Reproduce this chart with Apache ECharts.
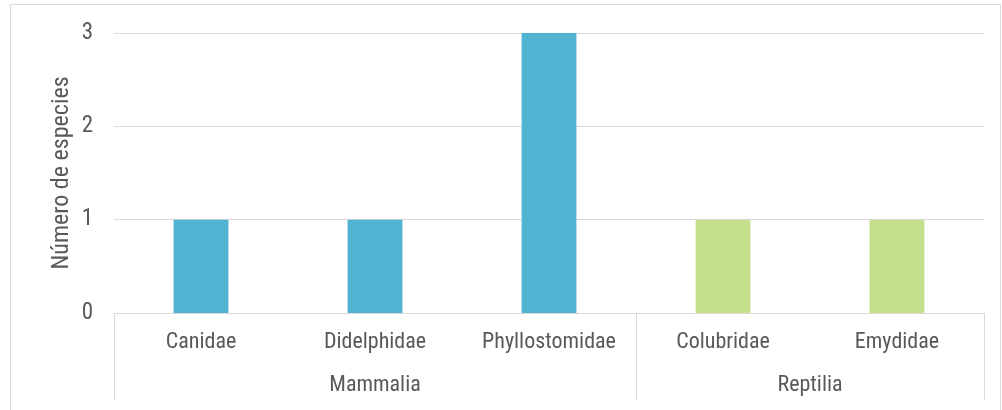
<!DOCTYPE html>
<html>
<head>
<meta charset="utf-8">
<style>
  html, body { margin: 0; padding: 0; background: #ffffff; }
  #chart { width: 1002px; height: 410px; }
</style>
<script src="https://cdn.jsdelivr.net/npm/echarts@6/dist/echarts.min.js"></script>
</head>
<body>
<div id="chart"></div>
<script>
// Families and the class each one belongs to
const families = ['Canidae', 'Didelphidae', 'Phyllostomidae', 'Colubridae', 'Emydidae'];
const familyClass = ['Mammalia', 'Mammalia', 'Mammalia', 'Reptilia', 'Reptilia'];
const speciesCount = [1, 1, 3, 1, 1];
const classNames = ['Mammalia', 'Reptilia'];
const classColors = { Mammalia: '#4fb3d1', Reptilia: '#c5e08a' };
const yTicks = [0, 1, 2, 3];

const GRID_COLOR = '#d9d9d9';
const TEXT_COLOR = '#595959';
const FONT = '"Roboto Condensed", "Liberation Sans Narrow", sans-serif';

const chart = echarts.init(document.getElementById('chart'), null, { renderer: 'canvas' });

const option = {
  animation: false,
  backgroundColor: '#ffffff',
  grid: { left: 114, right: 18, top: 33, bottom: 97 },
  xAxis: {
    type: 'category',
    data: families,
    boundaryGap: true,
    axisLine: { show: true, lineStyle: { color: GRID_COLOR, width: 1 } },
    axisTick: { show: false },
    axisLabel: { color: TEXT_COLOR, fontSize: 22, fontFamily: FONT, margin: 18, interval: 0 }
  },
  yAxis: {
    type: 'value',
    min: yTicks[0],
    max: yTicks[yTicks.length - 1],
    interval: 1,
    name: 'Número de especies',
    nameLocation: 'middle',
    nameGap: 40,
    nameMoveOverlap: false,
    nameTextStyle: { color: TEXT_COLOR, fontSize: 24, fontFamily: FONT },
    axisLine: { show: false },
    axisTick: { show: false },
    axisLabel: { color: TEXT_COLOR, fontSize: 23, fontFamily: FONT, margin: 21 },
    splitLine: { lineStyle: { color: GRID_COLOR, width: 1 } }
  },
  series: [{
    type: 'bar',
    barWidth: '31.5%',
    data: speciesCount.map((v, i) => ({
      value: v,
      itemStyle: { color: classColors[familyClass[i]] }
    }))
  }]
};

chart.setOption(option);

// Second-level category axis: class separators and class names
function drawGroups() {
  const rect = chart.getModel().getComponent('grid', 0).coordinateSystem.getRect();
  const band = rect.width / families.length;
  const axisY = rect.y + rect.height;
  const bottom = 400;
  const elements = [];

  // outer frame of the chart area
  elements.push({
    type: 'rect',
    shape: { x: 10.5, y: 4.5, width: 990, height: 420 },
    style: { fill: 'none', stroke: GRID_COLOR, lineWidth: 1 },
    silent: true
  });

  let start = 0;
  const boundaries = [0];
  classNames.forEach(name => {
    let end = start;
    while (end < families.length && familyClass[end] === name) end++;
    const c0 = chart.convertToPixel({ xAxisIndex: 0 }, families[start]);
    const c1 = chart.convertToPixel({ xAxisIndex: 0 }, families[end - 1]);
    elements.push({
      type: 'text',
      x: (c0 + c1) / 2,
      y: 385,
      style: {
        text: name, fill: TEXT_COLOR, fontSize: 22, fontFamily: FONT,
        align: 'center', verticalAlign: 'middle'
      },
      silent: true
    });
    boundaries.push(end);
    start = end;
  });

  boundaries.forEach(b => {
    const x = Math.round(rect.x + b * band) + 0.5;
    elements.push({
      type: 'line',
      shape: { x1: x, y1: axisY, x2: x, y2: bottom },
      style: { stroke: GRID_COLOR, lineWidth: 1 },
      silent: true
    });
  });

  chart.setOption({ graphic: { elements } });
}

drawGroups();
</script>
</body>
</html>
